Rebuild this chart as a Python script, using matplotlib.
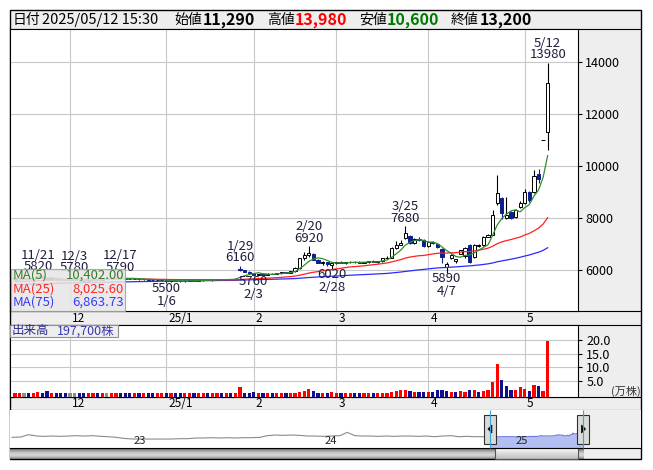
import numpy as np
import pandas as pd
import matplotlib
matplotlib.use("Agg")
import matplotlib.pyplot as plt
import matplotlib.dates as mdates
from matplotlib.patches import Rectangle, Polygon

plt.rcParams['font.family'] = ['Noto Sans CJK JP', 'DejaVu Sans']

# 東証の休場日 (表示期間内)
holidays = ["2024-12-31", "2025-01-01", "2025-01-02", "2025-01-03", "2025-01-13",
            "2025-02-11", "2025-02-24", "2025-03-20", "2025-04-29", "2025-05-05", "2025-05-06"]
days = pd.bdate_range("2024-11-14", "2025-05-12", freq="C", holidays=holidays)

# 日足 (11月, 12月, 1月, 2月, 3月, 4月, 5月)
opens = [5650, 5680, 5700, 5700, 5660, 5710, 5750, 5700, 5640, 5680, 5650, 5620,
         5610, 5620, 5610, 5600, 5590, 5620, 5650, 5630, 5660, 5660, 5680, 5700, 5690, 5670, 5650, 5670, 5640, 5650, 5620, 5610, 5620,
         5620, 5560, 5590, 5580, 5570, 5590, 5600, 5590, 5600, 5620, 5610, 5620, 5640, 5630, 5650, 5640, 6050, 5990, 5930,
         5880, 5800, 5840, 5820, 5860, 5850, 5880, 5910, 5900, 5950, 6060, 6450, 6560, 6620, 6400, 6280, 6300, 6200,
         6260, 6300, 6270, 6290, 6320, 6300, 6280, 6300, 6340, 6320, 6330, 6450, 6480, 6850, 6980, 7230, 7320, 7020, 7180, 7150,
         6930, 7080, 7000, 6810, 6120, 6460, 6330, 6620, 6520, 6960, 6500, 6940, 6960, 7280, 7350, 8580, 8770, 8000, 8230, 8040, 8420,
         8580, 9000, 9000, 9700, 11000, 11290]
highs = [5700, 5720, 5720, 5710, 5720, 5820, 5770, 5710, 5700, 5690, 5660, 5640,
         5640, 5780, 5630, 5620, 5640, 5660, 5660, 5680, 5680, 5700, 5720, 5790, 5710, 5690, 5690, 5680, 5670, 5660, 5650, 5640, 5650,
         5640, 5600, 5610, 5600, 5600, 5620, 5620, 5610, 5630, 5640, 5630, 5650, 5660, 5660, 5670, 5680, 6160, 6010, 5950,
         5900, 5860, 5870, 5880, 5900, 5900, 5920, 5940, 5960, 6100, 6480, 6700, 6920, 6640, 6420, 6330, 6320, 6280,
         6320, 6330, 6310, 6340, 6350, 6330, 6310, 6360, 6370, 6350, 6470, 6520, 6870, 7100, 7150, 7680, 7350, 7220, 7250, 7180,
         7100, 7120, 7020, 6830, 6300, 6600, 6440, 6780, 6880, 6990, 7000, 6990, 7300, 7380, 8310, 9650, 8800, 8820, 8260, 8350, 8650,
         9100, 9050, 9850, 9880, 11000, 13980]
lows = [5630, 5660, 5680, 5640, 5650, 5700, 5680, 5620, 5630, 5640, 5610, 5600,
        5600, 5600, 5590, 5580, 5580, 5610, 5620, 5620, 5640, 5650, 5670, 5680, 5660, 5640, 5640, 5630, 5620, 5600, 5600, 5590, 5600,
        5500, 5540, 5560, 5550, 5550, 5570, 5580, 5570, 5590, 5600, 5590, 5600, 5620, 5610, 5620, 5630, 5980, 5920, 5870,
        5760, 5790, 5800, 5810, 5830, 5840, 5860, 5880, 5890, 5940, 6050, 6400, 6500, 6380, 6250, 6200, 6150, 6020,
        6230, 6250, 6240, 6260, 6280, 6260, 6250, 6280, 6300, 6280, 6320, 6420, 6460, 6820, 6950, 7200, 7000, 7000, 7120, 6900,
        6900, 7000, 6850, 6270, 5890, 6420, 6250, 6600, 6480, 6250, 6480, 6900, 6940, 7250, 7340, 8500, 7950, 7960, 7950, 8000, 8400,
        8550, 8600, 8950, 9350, 11000, 10600]
closes = [5680, 5700, 5700, 5660, 5700, 5760, 5700, 5640, 5680, 5650, 5620, 5610,
          5610, 5610, 5600, 5590, 5620, 5650, 5630, 5660, 5660, 5680, 5700, 5690, 5670, 5650, 5670, 5640, 5650, 5620, 5610, 5620, 5630,
          5560, 5590, 5580, 5570, 5590, 5600, 5590, 5600, 5620, 5610, 5620, 5640, 5630, 5650, 5640, 5660, 6000, 5940, 5890,
          5800, 5840, 5820, 5860, 5850, 5880, 5910, 5900, 5950, 6060, 6450, 6560, 6640, 6400, 6280, 6300, 6220, 6260,
          6300, 6270, 6290, 6320, 6300, 6280, 6300, 6340, 6320, 6330, 6450, 6480, 6850, 6980, 7050, 7420, 7020, 7180, 7150, 6920,
          7080, 7050, 6880, 6500, 6230, 6560, 6420, 6750, 6850, 6310, 6960, 6950, 7270, 7350, 8120, 8960, 8190, 8100, 8000, 8310, 8580,
          9000, 8700, 9600, 9500, 11000, 13200]
# 出来高 (万株)
volume = [0.4, 0.4, 0.4, 0.4, 0.4, 0.9, 0.4, 1.2, 0.4, 0.4, 0.4, 0.4,
          0.4, 0.5, 0.4, 0.4, 0.4, 0.4, 0.4, 0.4, 0.4, 0.5, 0.4, 0.6, 0.4, 0.4, 0.4, 0.4, 0.4, 0.4, 0.4, 0.4, 0.4,
          0.5, 0.4, 0.4, 0.4, 0.4, 0.4, 0.4, 0.4, 0.4, 0.4, 0.4, 0.4, 0.4, 0.4, 0.4, 0.5, 2.6, 0.6, 0.4,
          0.9, 0.5, 0.4, 0.4, 0.4, 0.4, 0.4, 0.4, 0.5, 0.6, 1.0, 1.3, 1.9, 1.3, 0.6, 0.5, 0.5, 0.7,
          0.4, 0.4, 0.4, 0.4, 0.4, 0.4, 0.4, 0.4, 0.4, 0.4, 0.6, 0.6, 1.0, 1.2, 1.4, 1.5, 1.2, 0.8, 0.7, 1.0,
          0.9, 1.0, 1.4, 1.5, 1.2, 0.9, 0.8, 1.2, 1.0, 1.6, 1.6, 0.9, 1.2, 1.4, 4.6, 11.2, 5.3, 3.1, 1.6, 1.6, 2.6,
          1.8, 1.2, 3.4, 3.1, 1.2, 19.77]
# 表示期間より前の終値 (移動平均用)
prior_close = [5440, 5420, 5400, 5370, 5220, 5070, 5170, 5220, 5270, 5300, 5320, 5340, 5320, 5350, 5370, 5360, 5380, 5400, 5390, 5370,
               5380, 5400, 5420, 5410, 5390, 5380, 5400, 5420, 5440, 5430, 5410, 5390, 5380, 5400, 5420, 5440, 5460, 5450, 5430, 5420,
               5410, 5420, 5440, 5460, 5480, 5470, 5460, 5480, 5500, 5490, 5480, 5500, 5520, 5510, 5500, 5520, 5540, 5530, 5520, 5540,
               5560, 5550, 5540, 5560, 5570, 5560, 5550, 5540, 5560, 5570, 5580, 5570, 5560, 5570]

peak_days = ["2024-11-21", "2024-12-03", "2024-12-17", "2025-01-29", "2025-02-20", "2025-03-25", "2025-05-12"]
trough_days = ["2025-01-06", "2025-02-03", "2025-02-28", "2025-04-07"]
ma_names = ["MA(5)", "MA(25)", "MA(75)"]
ma_values = ["10,402.00", "8,025.60", "6,863.73"]

# 長期推移 (ナビゲーター)
nav_dates = pd.to_datetime([
    "2022-05-15", "2022-06-01", "2022-06-15", "2022-07-01", "2022-07-15", "2022-08-01", "2022-08-15", "2022-09-01",
    "2022-09-15", "2022-10-01", "2022-10-15", "2022-11-01", "2022-11-15", "2022-12-01", "2022-12-15", "2023-01-01",
    "2023-01-15", "2023-02-01", "2023-02-15", "2023-03-01", "2023-03-15", "2023-04-01", "2023-04-15", "2023-05-01",
    "2023-05-15", "2023-06-01", "2023-06-15", "2023-07-01", "2023-07-15", "2023-08-01", "2023-08-15", "2023-09-01",
    "2023-09-15", "2023-10-01", "2023-10-15", "2023-11-01", "2023-11-15", "2023-12-01", "2023-12-15", "2024-01-01",
    "2024-01-15", "2024-02-01", "2024-02-15", "2024-03-01", "2024-03-15", "2024-04-01", "2024-04-15", "2024-05-01",
    "2024-05-15", "2024-06-01", "2024-06-15", "2024-07-01", "2024-07-15", "2024-08-01", "2024-08-15", "2024-09-01",
    "2024-09-15", "2024-10-01", "2024-10-15", "2024-11-01"])
nav_close = [5050, 5350, 7450, 6250, 5950, 6250, 5950, 6250,
             6550, 6250, 6550, 5950, 5650, 5050, 4150, 3550,
             3550, 3550, 3550, 3550, 3550, 3850, 3850, 4450,
             4450, 4750, 4450, 4750, 4450, 4750, 4750, 5050,
             6550, 7150, 6850, 7150, 6850, 6250, 6250, 5950,
             6250, 6550, 9550, 6550, 6250, 6250, 5950, 6250,
             5950, 6250, 6250, 5950, 6250, 5650, 6250, 6550,
             5650, 5950, 5650, 5650]

W, H = 653, 470
fig = plt.figure(figsize=(W / 100, H / 100), dpi=100)


def box(x0, y0, x1, y1):
    return [x0 / W, 1 - y1 / H, (x1 - x0) / W, (y1 - y0) / H]


# 背景と枠
bg = fig.add_axes([0, 0, 1, 1])
bg.set_xlim(0, W)
bg.set_ylim(H, 0)
bg.axis('off')
bg.add_patch(Rectangle((10, 10), 631, 449, facecolor='#eeeeee', edgecolor='black', lw=1))
for yy in (29, 311, 325, 397, 410):
    bg.plot([10, 641], [yy, yy], color='black', lw=0.8)

x = np.arange(len(days))
o, h, l, c = (np.array(v, dtype=float) for v in (opens, highs, lows, closes))
month_idx = [i for i in range(1, len(days)) if days[i].month != days[i - 1].month]
month_lbl = [f"{days[i].year % 100}/{days[i].month}" if days[i].month == 1 else str(days[i].month) for i in month_idx]
XL = (-1.07, 122.6)

# ---- 株価 ----
ax = fig.add_axes(box(10, 29, 578, 311))
ax.set_xlim(*XL)
ax.set_ylim(4423, 15269)
ax.set_xticks(month_idx)
ax.set_yticks([6000, 8000, 10000, 12000, 14000])
ax.grid(True, color='#c8c8c8', lw=0.8)
ax.set_axisbelow(True)
ax.yaxis.tick_right()
ax.tick_params(axis='x', length=0, labelbottom=False)
ax.tick_params(axis='y', length=3, width=0.8, pad=2, labelsize=9)
for sp in ax.spines.values():
    sp.set_linewidth(0.8)

up = c >= o
navy = '#0c1f8f'
col_body = np.where(up, 'white', navy)
col_edge = np.where(up, 'black', navy)
ax.vlines(x, l, h, colors=col_edge, lw=0.8, zorder=2)
ax.bar(x, np.abs(c - o), bottom=np.minimum(o, c), width=0.7, color=col_body,
       edgecolor=col_edge, lw=0.7, zorder=3)

allc = pd.Series(prior_close + closes, dtype=float)
n0 = len(prior_close)
for n, col in [(75, '#2a2aff'), (25, '#ff2020'), (5, '#2f8f2f')]:
    ax.plot(x, allc.rolling(n).mean().iloc[n0:].to_numpy(), color=col, lw=0.9, zorder=4)

lab_kw = dict(textcoords='offset pixels', ha='center', va='center', fontsize=9.5, color='#1e1e3c', zorder=5)
for d in peak_days:
    i = days.get_loc(pd.Timestamp(d))
    ax.annotate(f"{int(h[i])}", (i, h[i]), xytext=(0, 8), **lab_kw)
    ax.annotate(f"{days[i].month}/{days[i].day}", (i, h[i]), xytext=(0, 19.5), **lab_kw)
for d in trough_days:
    i = days.get_loc(pd.Timestamp(d))
    ax.annotate(f"{int(l[i])}", (i, l[i]), xytext=(0, -5.5), **lab_kw)
    ax.annotate(f"{days[i].month}/{days[i].day}", (i, l[i]), xytext=(0, -18.5), **lab_kw)

for i, t in zip(month_idx, month_lbl):
    ax.annotate(t, (i, 0), xycoords=('data', 'axes fraction'), xytext=(2, -7), textcoords='offset pixels',
                ha='left', va='center', fontsize=8.5, annotation_clip=False)

# ---- 出来高 ----
vax = fig.add_axes(box(10, 325, 578, 397))
vax.set_xlim(*XL)
vax.set_ylim(-1.0, 25.5)
vax.set_xticks(month_idx)
vax.set_yticks([5, 10, 15, 20])
vax.set_yticklabels([f"{v:.1f}" for v in [5, 10, 15, 20]])
vax.grid(True, color='#c8c8c8', lw=0.8)
vax.set_axisbelow(True)
vax.yaxis.tick_right()
vax.tick_params(axis='x', length=0, labelbottom=False)
vax.tick_params(axis='y', length=3, width=0.8, pad=3, labelsize=9)
for sp in vax.spines.values():
    sp.set_linewidth(0.8)
prev = np.r_[prior_close[-1], c[:-1]]
vcol = np.where(c > prev, '#ff0000', np.where(c < prev, '#10108f', '#8c8c8c'))
vol = np.array(volume)
vax.bar(x, vol + 1.0, bottom=-1.0, width=0.7, color=vcol, zorder=3)
for i, t in zip(month_idx, month_lbl):
    vax.annotate(t, (i, 0), xycoords=('data', 'axes fraction'), xytext=(2, -6.5), textcoords='offset pixels',
                 ha='left', va='center', fontsize=8.5, annotation_clip=False)

# ---- ナビゲーター ----
nav = fig.add_axes(box(10, 410, 641, 448))
nx0 = mdates.date2num(pd.Timestamp("2022-05-11"))
nx1 = mdates.date2num(pd.Timestamp("2025-08-30"))
nav.set_xlim(nx0, nx1)
nav.set_ylim(-4500, 29600)
nav.set_xticks([])
nav.set_yticks([])
for sp in nav.spines.values():
    sp.set_visible(False)
day_x = mdates.date2num(days)
nav_x = mdates.date2num(nav_dates)
nav.plot(np.r_[nav_x, day_x[:1]], np.r_[nav_close, c[:1]], color='#8a8a8a', lw=0.8)
nav.fill_between(day_x, c, -4500, color='#b3bff2', lw=0)
nav.plot(day_x, c, color='#6a78d8', lw=0.8)
nav.axvspan(day_x[-1], nx1, color='#eeeeee', lw=0)
for yr in (2023, 2024, 2025):
    nav.annotate(str(yr % 100), (mdates.date2num(pd.Timestamp(f"{yr}-01-01")), 0),
                 xycoords=('data', 'axes fraction'), xytext=(7, 7.5), textcoords='offset pixels',
                 ha='center', va='center', fontsize=8, color='#222222')

px0 = nav.transData.transform((day_x[0], 0))[0]
px1 = nav.transData.transform((day_x[-1], 0))[0]

# ---- 重ね描き (凡例, ヘッダー, ハンドル) ----
ui = fig.add_axes([0, 0, 1, 1])
ui.set_zorder(10)
ui.axis('off')

track = np.array([0.42, 0.5, 0.6, 0.68, 0.75, 0.8, 0.83, 0.82, 0.76, 0.66, 0.5]).reshape(-1, 1)
ui.imshow(track, cmap='gray', vmin=0, vmax=1, extent=(10, px1, 459, 448), aspect='auto', interpolation='bilinear')
thumb = np.array([0.98, 0.96, 0.94, 0.91, 0.88, 0.86, 0.84, 0.82, 0.8, 0.77, 0.72]).reshape(-1, 1)
ui.imshow(thumb, cmap='gray', vmin=0, vmax=1, extent=(px0 + 5, px1 - 5, 459, 448), aspect='auto', interpolation='bilinear')
ui.add_patch(Rectangle((px0 + 5, 448), px1 - px0 - 10, 11, fill=False, edgecolor='#555555', lw=0.8))
ui.plot([10, 641], [448, 448], color='black', lw=0.8)

ui.vlines([px0, px1], 410, 448, color='#3aa6d6', lw=0.8)
for px, sgn in ((px0, -1), (px1, 1)):
    ui.add_patch(Rectangle((px - 6, 415), 12, 29, facecolor='#dadada', edgecolor='#303030', lw=0.8))
    ui.add_patch(Polygon([(px - 2 * sgn, 425), (px - 2 * sgn, 433), (px + 2 * sgn, 429)], closed=True,
                         facecolor='black', edgecolor='black', lw=0.5))

# 移動平均の凡例
ui.add_patch(Rectangle((11, 269), 114, 42, facecolor='#e6e6e6', edgecolor='#a0a0a0', lw=0.8, alpha=0.88))
for k, (nm, val, col) in enumerate(zip(ma_names, ma_values, ['#3a7a2a', '#ff2828', '#3838ff'])):
    yy = 275.5 + k * 13.5
    ui.text(12.5, yy, nm, color=col, fontsize=9.5, ha='left', va='center')
    ui.text(124, yy, val, color=col, fontsize=9.5, ha='right', va='center')

# 出来高ラベル
ui.add_patch(Rectangle((10, 325), 108, 11.5, facecolor='#eeeeee', edgecolor='#909090', lw=0.8))
ui.text(12, 330.8, "出来高", color='#2b2b8c', fontsize=9, ha='left', va='center')
ui.text(57, 330.8, f"{int(round(vol[-1] * 10000)):,}株", color='#3a3ab0', fontsize=9, ha='left', va='center')
ui.text(626, 391, "(万株)", color='#333333', fontsize=8, ha='center', va='center')

# ヘッダー
hy = 19.8
last = days[-1]
ui.text(13, hy, "日付", fontsize=10, ha='left', va='center')
ui.text(42, hy, last.strftime("%Y/%m/%d") + " 15:30", fontsize=10.5, ha='left', va='center')
hdr = [("始値", 174, 203, o[-1], 'black'), ("高値", 267, 295, h[-1], '#ff0000'),
       ("安値", 359, 387, l[-1], '#007a00'), ("終値", 451, 480, c[-1], 'black')]
for name, xn, xv, v, col in hdr:
    ui.text(xn, hy, name, fontsize=10, ha='left', va='center')
    ui.text(xv, hy, f"{int(v):,}", fontsize=11.5, fontweight='bold', color=col, ha='left', va='center')

ui.set_xlim(0, W)
ui.set_ylim(H, 0)

fig.savefig("out.png", dpi=100)
